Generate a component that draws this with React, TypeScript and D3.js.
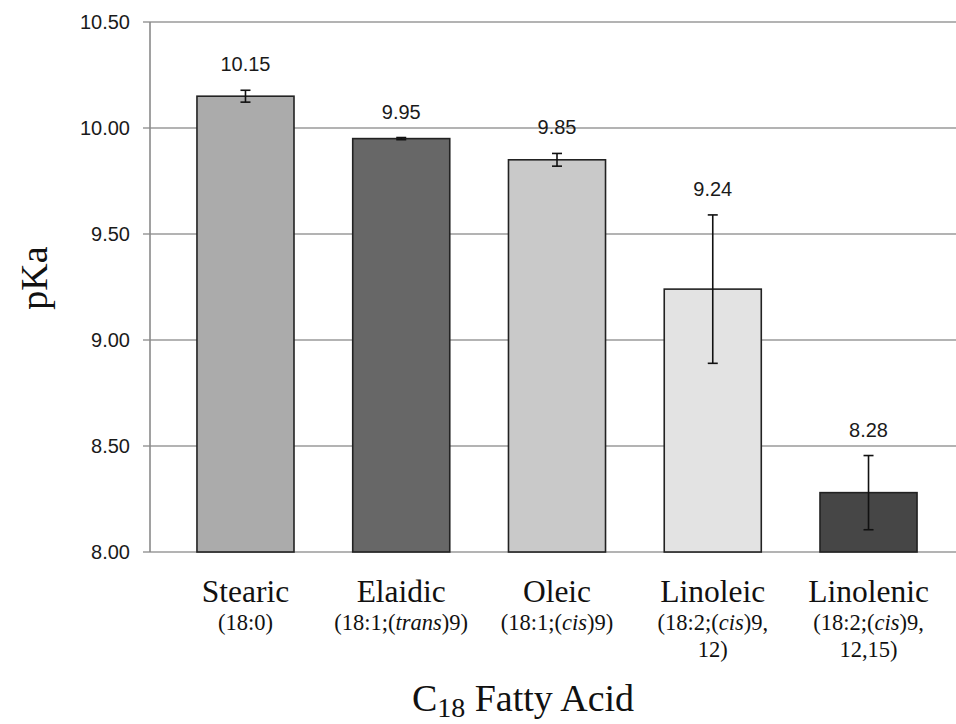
import React from "react";
import * as d3 from "d3";

const categories = ["Stearic", "Elaidic", "Oleic", "Linoleic", "Linolenic"];
const subLabels = [
  ["(18:0)"],
  ["(18:1;(*trans*)9)"],
  ["(18:1;(*cis*)9)"],
  ["(18:2;(*cis*)9,", "12)"],
  ["(18:2;(*cis*)9,", "12,15)"],
];
const pKaValues = [10.15, 9.95, 9.85, 9.24, 8.28];
const barLabels = ["10.15", "9.95", "9.85", "9.24", "8.28"];
const errors = [0.028, 0.005, 0.03, 0.35, 0.175];
const barColors = ["#ababab", "#676767", "#c9c9c9", "#e3e3e3", "#464646"];
const yTicks = [8.0, 8.5, 9.0, 9.5, 10.0, 10.5];

const W = 956;
const H = 724;
const SERIF = "'Liberation Serif', 'Times New Roman', serif";
const SANS = "'Liberation Sans', Arial, sans-serif";

function parseItalic(s: string) {
  const parts = s.split("*");
  return parts.map((p, i) => ({ text: p, italic: i % 2 === 1 })).filter((p) => p.text.length > 0);
}

export default function App() {
  const y = d3.scaleLinear().domain([8, 10.5]).range([552, 22]);
  const x = d3
    .scaleBand<string>()
    .domain(categories)
    .range([167.6, 946.4])
    .paddingInner(0.377)
    .paddingOuter(0.1885);
  const axisX = 150;

  return (
    <svg width={W} height={H} style={{ position: "absolute", left: 0, top: 0, background: "#fff" }}>
      <rect x={0} y={0} width={W} height={H} fill="#fff" />
      {yTicks.map((t) => (
        <g key={t}>
          <line x1={axisX - 7} x2={W} y1={y(t)} y2={y(t)} stroke="#9a9a9a" strokeWidth={1.6} />
          <text
            x={130}
            y={y(t)}
            dy="0.36em"
            textAnchor="end"
            fontFamily={SANS}
            fontSize={20}
            fill="#1a1a1a"
          >
            {d3.format(".2f")(t)}
          </text>
        </g>
      ))}
      <line x1={axisX} x2={axisX} y1={y(10.5)} y2={y(8)} stroke="#8a8a8a" strokeWidth={1.6} />

      {categories.map((c, i) => {
        const bx = x(c) as number;
        const bw = x.bandwidth();
        const cx = bx + bw / 2;
        const v = pKaValues[i];
        const e = errors[i];
        return (
          <g key={c}>
            <rect
              x={bx}
              y={y(v)}
              width={bw}
              height={y(8) - y(v)}
              fill={barColors[i]}
              stroke="#222"
              strokeWidth={1.6}
            />
            <line x1={cx} x2={cx} y1={y(v + e)} y2={y(v - e)} stroke="#111" strokeWidth={1.6} />
            <line x1={cx - 5} x2={cx + 5} y1={y(v + e)} y2={y(v + e)} stroke="#111" strokeWidth={1.6} />
            <line x1={cx - 5} x2={cx + 5} y1={y(v - e)} y2={y(v - e)} stroke="#111" strokeWidth={1.6} />
            <text
              x={cx}
              y={y(v + e) - 19}
              textAnchor="middle"
              fontFamily={SANS}
              fontSize={20}
              fill="#1a1a1a"
            >
              {barLabels[i]}
            </text>
            <text x={cx} y={602} textAnchor="middle" fontFamily={SERIF} fontSize={31.5} fill="#111">
              {c}
            </text>
            {subLabels[i].map((line, li) => (
              <text
                key={li}
                x={cx}
                y={630 + li * 27}
                textAnchor="middle"
                fontFamily={SERIF}
                fontSize={22.5}
                fill="#111"
              >
                {parseItalic(line).map((p, pi) => (
                  <tspan key={pi} fontStyle={p.italic ? "italic" : "normal"}>
                    {p.text}
                  </tspan>
                ))}
              </text>
            ))}
          </g>
        );
      })}

      <text
        transform="translate(47,278) rotate(-90)"
        textAnchor="middle"
        fontFamily={SERIF}
        fontSize={38}
        fill="#111"
      >
        pKa
      </text>
      <text x={523} y={711} textAnchor="middle" fontFamily={SERIF} fontSize={38} fill="#111">
        C
        <tspan fontSize={28} dy={6}>
          18
        </tspan>
        <tspan dy={-6}> Fatty Acid</tspan>
      </text>
    </svg>
  );
}
